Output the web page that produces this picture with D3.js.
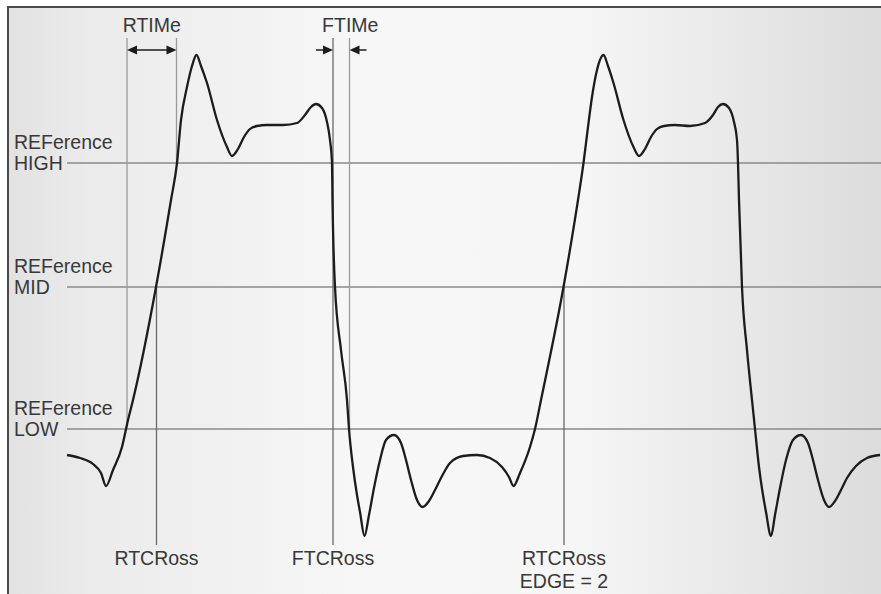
<!DOCTYPE html>
<html>
<head>
<meta charset="utf-8">
<script src="https://cdn.jsdelivr.net/npm/d3@7"></script>
<style>
  body { margin: 0; background: #fff; }
  svg { display: block; }
</style>
</head>
<body>
<script>
// waveform samples, time in ns and level in % of full scale
var waveT = [0.7, 2.0, 3.3, 4.1, 4.6, 5.3, 6.2, 6.8, 7.3, 9.6, 11.1, 11.7, 12.1, 12.7, 13.2, 13.65,
  14.1, 14.7, 15.7, 16.7, 17.2, 17.8, 18.4, 19.0, 19.7, 20.7, 22.3, 23.7, 24.5, 25.1, 25.6, 26.2,
  26.7, 27.0, 27.2, 27.25, 27.5, 28.1, 28.7, 28.9, 29.3, 29.7, 30.0, 30.45, 30.9, 31.4, 32.0, 32.6,
  33.4, 34.1, 34.6, 35.1, 35.7, 36.25, 36.9, 37.5, 38.1, 39.0, 40.3, 41.7, 43.0, 44.2, 44.9, 45.35,
  46.0, 47.0, 47.5, 48.1, 50.35, 51.8, 52.35, 52.8, 53.2, 53.7, 54.35, 54.8, 55.35, 56.35, 57.35,
  57.9, 58.5, 59.1, 59.7, 60.4, 61.5, 63.0, 64.5, 65.3, 65.8, 66.3, 66.9, 67.4, 67.7, 67.8, 67.9,
  68.2, 68.7, 69.2, 69.5, 69.9, 70.3, 70.6, 71.1, 71.5, 72.0, 72.6, 73.3, 74.1, 74.8, 75.3, 75.8,
  76.4, 76.9, 77.5, 78.1, 78.7, 79.6, 80.7, 82.0];
var waveV = [18.0, 17.4, 16.2, 14.4, 11.8, 15.0, 19.6, 25.0, 29.0, 51.6, 69.0, 76.4, 85.0, 91.6, 95.8, 98.0,
  95.8, 92.4, 85.0, 79.6, 77.8, 79.2, 81.6, 83.2, 83.8, 84.0, 84.0, 84.4, 86.0, 87.6, 88.2, 87.4,
  84.6, 81.0, 76.4, 69.0, 51.6, 39.0, 29.0, 23.2, 15.6, 10.0, 6.6, 1.8, 6.0, 11.4, 17.0, 21.0,
  22.0, 20.4, 17.0, 13.0, 9.0, 7.6, 8.8, 11.0, 13.4, 16.4, 17.8, 18.0, 17.4, 15.6, 13.6, 11.8,
  14.4, 19.6, 23.2, 29.0, 51.6, 69.0, 76.4, 83.6, 89.6, 95.0, 98.0, 95.8, 92.4, 85.0, 79.6,
  77.8, 79.2, 81.6, 83.2, 83.8, 84.0, 83.8, 84.4, 86.0, 87.6, 88.2, 87.4, 84.6, 81.0, 76.4, 69.0,
  51.6, 39.0, 29.0, 23.2, 15.6, 10.0, 6.6, 1.8, 6.0, 11.4, 17.0, 21.0, 22.0, 20.4, 17.0, 13.0,
  9.0, 7.6, 8.8, 11.0, 13.4, 15.8, 17.4, 18.0];

// reference levels
var refNames = ["HIGH", "MID", "LOW"];
var refLevels = [76.4, 51.6, 23.2];

// cursor lines: time, top level, bottom level
var cursorT = [6.7, 11.65, 9.65, 27.3, 28.95, 50.4];
var cursorTop = [101.4, 101.4, 51.6, 101.4, 101.4, 51.6];
var cursorBottom = [23.2, 76.4, 0, 0, 23.2, 0];

// crossing labels under the chart
var crossT = [9.65, 27.3, 50.4];
var crossText = [["RTCRoss"], ["FTCRoss"], ["RTCRoss", "EDGE = 2"]];

// time spans at the top
var spanNames = ["RTIMe", "FTIMe"];
var spanStart = [6.7, 27.3];
var spanEnd = [11.65, 28.95];

var W = 881, H = 594;
var font = "'Liberation Sans', Arial, sans-serif";
var ink = "#383838";

var svg = d3.select("body").append("svg")
    .attr("width", W)
    .attr("height", H);

var x = d3.scaleLinear().domain([0, 82]).range([60, 880]);
var y = d3.scaleLinear().domain([0, 100]).range([545, 45]);

// background panel
var grad = svg.append("defs").append("linearGradient")
    .attr("id", "bg").attr("x1", "0%").attr("x2", "100%").attr("y1", "0%").attr("y2", "0%");
grad.append("stop").attr("offset", "0%").attr("stop-color", "#e2e2e2");
grad.append("stop").attr("offset", "9%").attr("stop-color", "#ebebeb");
grad.append("stop").attr("offset", "40%").attr("stop-color", "#f7f7f7");
grad.append("stop").attr("offset", "65%").attr("stop-color", "#f6f6f6");
grad.append("stop").attr("offset", "100%").attr("stop-color", "#dcdcdc");

svg.append("rect")
    .attr("x", 8).attr("y", 7)
    .attr("width", W - 8).attr("height", H - 7)
    .attr("fill", "url(#bg)");

svg.append("path")
    .attr("d", "M8," + H + "V7H" + W)
    .attr("fill", "none")
    .attr("stroke", "#4a4a4a")
    .attr("stroke-width", 2);

// reference lines
svg.selectAll(".ref")
    .data(refLevels)
  .enter().append("line")
    .attr("class", "ref")
    .attr("x1", x(0.7)).attr("x2", W)
    .attr("y1", function(d) { return y(d); })
    .attr("y2", function(d) { return y(d); })
    .attr("stroke", "#8a8a8a")
    .attr("stroke-width", 1.6);

var refLab = svg.selectAll(".reflab")
    .data(refLevels)
  .enter().append("text")
    .attr("class", "reflab")
    .attr("x", 14)
    .attr("y", function(d) { return y(d); })
    .attr("font-family", font)
    .attr("font-size", 19.5)
    .attr("fill", ink);
refLab.append("tspan").attr("x", 14).attr("dy", -14).text("REFerence");
refLab.append("tspan").attr("x", 14).attr("dy", 21).text(function(d, i) { return refNames[i]; });

// cursor lines
svg.selectAll(".cursor")
    .data(cursorT)
  .enter().append("line")
    .attr("class", "cursor")
    .attr("x1", function(d) { return x(d); })
    .attr("x2", function(d) { return x(d); })
    .attr("y1", function(d, i) { return y(cursorTop[i]); })
    .attr("y2", function(d, i) { return y(cursorBottom[i]); })
    .attr("stroke", function(d, i) { return cursorTop[i] > 100 && cursorBottom[i] > 0 ? "#9a9a9a" : "#6a6a6a"; })
    .attr("stroke-width", 1.3);

// waveform
var line = d3.line()
    .x(function(d) { return x(d[0]); })
    .y(function(d) { return y(d[1]); })
    .curve(d3.curveMonotoneX);

svg.append("path")
    .datum(d3.zip(waveT, waveV))
    .attr("d", line)
    .attr("fill", "none")
    .attr("stroke", "#1c1c1c")
    .attr("stroke-width", 2.3)
    .attr("stroke-linejoin", "round");

// span labels and arrows
var ay = y(99);
function head(tip, dir) {
  // dir = +1 points right, -1 points left
  return "M" + tip + "," + ay + "L" + (tip - dir * 10) + "," + (ay - 4.5) +
    "L" + (tip - dir * 10) + "," + (ay + 4.5) + "Z";
}

svg.selectAll(".span")
    .data(spanNames)
  .enter().append("text")
    .attr("class", "span")
    .attr("x", function(d, i) { return (x(spanStart[i]) + x(spanEnd[i])) / 2 + (i ? 9 : 0); })
    .attr("y", 32)
    .attr("text-anchor", "middle")
    .attr("font-family", font)
    .attr("font-size", 19.5)
    .attr("fill", ink)
    .text(function(d) { return d; });

var arrows = svg.append("g").attr("fill", "#1c1c1c").attr("stroke", "#1c1c1c");
// RTIMe: arrows inside span, heads out
arrows.append("line")
    .attr("x1", x(spanStart[0]) + 6).attr("x2", x(spanEnd[0]) - 6)
    .attr("y1", ay).attr("y2", ay).attr("stroke-width", 1.5);
arrows.append("path").attr("d", head(x(spanStart[0]), -1)).attr("stroke", "none");
arrows.append("path").attr("d", head(x(spanEnd[0]), 1)).attr("stroke", "none");
// FTIMe: arrows outside span, heads in
arrows.append("line")
    .attr("x1", x(spanStart[1]) - 17).attr("x2", x(spanStart[1]) - 5)
    .attr("y1", ay).attr("y2", ay).attr("stroke-width", 1.5);
arrows.append("path").attr("d", head(x(spanStart[1]), 1)).attr("stroke", "none");
arrows.append("line")
    .attr("x1", x(spanEnd[1]) + 5).attr("x2", x(spanEnd[1]) + 17)
    .attr("y1", ay).attr("y2", ay).attr("stroke-width", 1.5);
arrows.append("path").attr("d", head(x(spanEnd[1]), -1)).attr("stroke", "none");

// crossing labels
var cross = svg.selectAll(".cross")
    .data(crossT)
  .enter().append("text")
    .attr("class", "cross")
    .attr("text-anchor", "middle")
    .attr("font-family", font)
    .attr("font-size", 19.5)
    .attr("fill", ink)
    .attr("y", y(0) + 20);
cross.selectAll("tspan")
    .data(function(d, i) { return crossText[i].map(function(s) { return [d, s]; }); })
  .enter().append("tspan")
    .attr("x", function(d) { return x(d[0]); })
    .attr("dy", function(d, j) { return j ? 23 : 0; })
    .text(function(d) { return d[1]; });
</script>
</body>
</html>
